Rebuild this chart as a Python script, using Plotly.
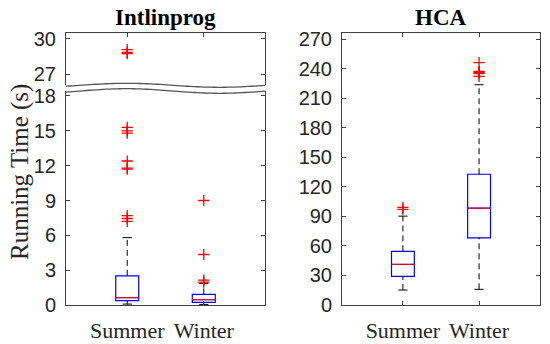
import numpy as np
import plotly.graph_objects as go

W, H = 550, 344

categories = ["Summer", "Winter"]
positions = [1, 2]

# Intlinprog box statistics (s)
int_q1 = [0.37, 0.23]
int_median = [0.63, 0.45]
int_q3 = [2.51, 0.92]
int_lower = [0.08, 0.05]
int_upper = [5.8, 1.86]
int_outliers_summer = [7.2, 7.45, 7.7, 11.7, 11.78, 12.4, 14.8, 15.0, 15.3, 28.75, 28.85, 29.1]
int_outliers_winter = [1.97, 2.15, 4.35, 9.0]

# HCA box statistics (s)
hca_q1 = [29.1, 68.2]
hca_median = [41.2, 98.3]
hca_q3 = [54.4, 132.7]
hca_lower = [15.2, 15.9]
hca_upper = [90.2, 223.6]
hca_outliers_summer = [97.0, 99.0]
hca_outliers_winter = [232, 235, 236, 237, 246]

BREAK_LOW = 20  # values above go in the upper broken panel

BOXW = 0.3
CAPW = 0.06
BLUE = "#0000ff"
RED = "#ff0000"
AX = "#404040"
NUMFONT = dict(family="Liberation Sans, Arial", size=20, color="#262626")
CATFONT = dict(family="Liberation Serif, serif", size=22, color="#262626")

fig = go.Figure()


def add_boxes(q1, med, q3, lo, up, xa, ya):
    for p, a, m, b, l, u in zip(positions, q1, med, q3, lo, up):
        fig.add_trace(go.Box(x=[p], q1=[a], median=[m], q3=[b], lowerfence=[a], upperfence=[b],
                             width=BOXW, line=dict(color=BLUE, width=1.2), fillcolor="rgba(0,0,0,0)",
                             xaxis=xa, yaxis=ya, showlegend=False, hoverinfo="skip"))
        fig.add_trace(go.Scatter(x=[p, p, None, p, p], y=[l, a, None, b, u], mode="lines",
                                 line=dict(color="black", width=1, dash="6px,4px"),
                                 xaxis=xa, yaxis=ya, showlegend=False, hoverinfo="skip"))
        fig.add_trace(go.Scatter(x=[p - CAPW, p + CAPW, None, p - CAPW, p + CAPW], y=[l, l, None, u, u],
                                 mode="lines", line=dict(color="black", width=1),
                                 xaxis=xa, yaxis=ya, showlegend=False, hoverinfo="skip"))
        fig.add_trace(go.Scatter(x=[p - BOXW / 2, p + BOXW / 2], y=[m, m], mode="lines",
                                 line=dict(color=RED, width=1),
                                 xaxis=xa, yaxis=ya, showlegend=False, hoverinfo="skip"))


def add_outliers(vals, pos, xa, ya):
    if not vals:
        return
    fig.add_trace(go.Scatter(x=[pos] * len(vals), y=vals, mode="markers",
                             marker=dict(symbol="cross-thin", size=8, line=dict(color=RED, width=1.3)),
                             xaxis=xa, yaxis=ya, showlegend=False, hoverinfo="skip"))


# Left panel lower part
add_boxes(int_q1, int_median, int_q3, int_lower, int_upper, "x", "y")
add_outliers([v for v in int_outliers_summer if v < BREAK_LOW], 1, "x", "y")
add_outliers([v for v in int_outliers_winter if v < BREAK_LOW], 2, "x", "y")
# Left panel upper part
add_outliers([v for v in int_outliers_summer if v > BREAK_LOW], 1, "x2", "y2")
add_outliers([v for v in int_outliers_winter if v > BREAK_LOW], 2, "x2", "y2")
# Right panel
add_boxes(hca_q1, hca_median, hca_q3, hca_lower, hca_upper, "x3", "y3")
add_outliers(hca_outliers_summer, 1, "x3", "y3")
add_outliers(hca_outliers_winter, 2, "x3", "y3")


def px(x):
    return x / W


def py(y):
    return 1 - y / H


L0, L1 = 66, 265
R0, R1 = 342, 540
BOT, TOP = 305, 33
UP_BOT, LO_TOP = 85.3, 91

xcommon = dict(range=[0.2, 2.8], tickvals=positions, ticktext=categories, ticks="inside",
               ticklen=4, tickcolor=AX, linecolor=AX, linewidth=1, showgrid=False, zeroline=False)
ycommon = dict(ticks="inside", ticklen=4, tickcolor=AX, linecolor=AX, linewidth=1, showline=True,
               mirror="ticks", showgrid=False, zeroline=False, tickfont=NUMFONT, ticklabelstandoff=5)

fig.update_layout(
    width=W, height=H, margin=dict(l=0, r=0, t=0, b=0, autoexpand=False),
    paper_bgcolor="white", plot_bgcolor="white",
    xaxis=dict(domain=[px(L0), px(L1)], anchor="y", showline=True, mirror=False,
               tickfont=CATFONT, ticklabelstandoff=6, **xcommon),
    yaxis=dict(domain=[py(BOT), py(LO_TOP)], anchor="x", range=[0, 18.43],
               tickvals=[0, 3, 6, 9, 12, 15, 18], **ycommon),
    xaxis2=dict(domain=[px(L0), px(L1)], anchor="y2", side="top", showline=True, mirror=False,
                showticklabels=False, matches="x", **xcommon),
    yaxis2=dict(domain=[py(UP_BOT), py(TOP)], anchor="x2", range=[26.06, 30.51],
                tickvals=[27, 30], **ycommon),
    xaxis3=dict(domain=[px(R0), px(R1)], anchor="y3", showline=True, mirror="ticks",
                tickfont=CATFONT, ticklabelstandoff=6, **xcommon),
    yaxis3=dict(domain=[py(BOT), py(TOP)], anchor="x3", range=[0, 276.1],
                tickvals=list(range(0, 271, 30)), **ycommon),
)


# wavy break lines
def wave(c, A):
    xs = np.linspace(L0, L1, 60)
    ys = c - A * np.sin(2 * np.pi * (xs - 80) / 186)
    return "M " + " L ".join(f"{px(x):.5f},{py(y):.5f}" for x, y in zip(xs, ys))


fig.add_shape(type="path", path=wave(85.3, 2.0), xref="paper", yref="paper",
              line=dict(color="#555555", width=1.3))
fig.add_shape(type="path", path=wave(91.0, 2.3), xref="paper", yref="paper",
              line=dict(color="#555555", width=1.3))

title_font = dict(family="Liberation Serif, serif", size=23, color="black")
fig.add_annotation(text="<b>Intlinprog</b>", x=px((L0 + L1) / 2), y=py(18), xref="paper", yref="paper",
                   xanchor="center", yanchor="middle", showarrow=False, font=title_font)
fig.add_annotation(text="<b>HCA</b>", x=px((R0 + R1) / 2), y=py(18), xref="paper", yref="paper",
                   xanchor="center", yanchor="middle", showarrow=False, font=title_font)
fig.add_annotation(text="Running Time (s)", x=px(20), y=py(172), xref="paper", yref="paper",
                   xanchor="center", yanchor="middle", showarrow=False, textangle=-90,
                   font=dict(family="Liberation Serif, serif", size=25, color="#262626"))

fig.write_html("out.html", config={"displayModeBar": False},
               post_script="document.body.style.margin='0';")
